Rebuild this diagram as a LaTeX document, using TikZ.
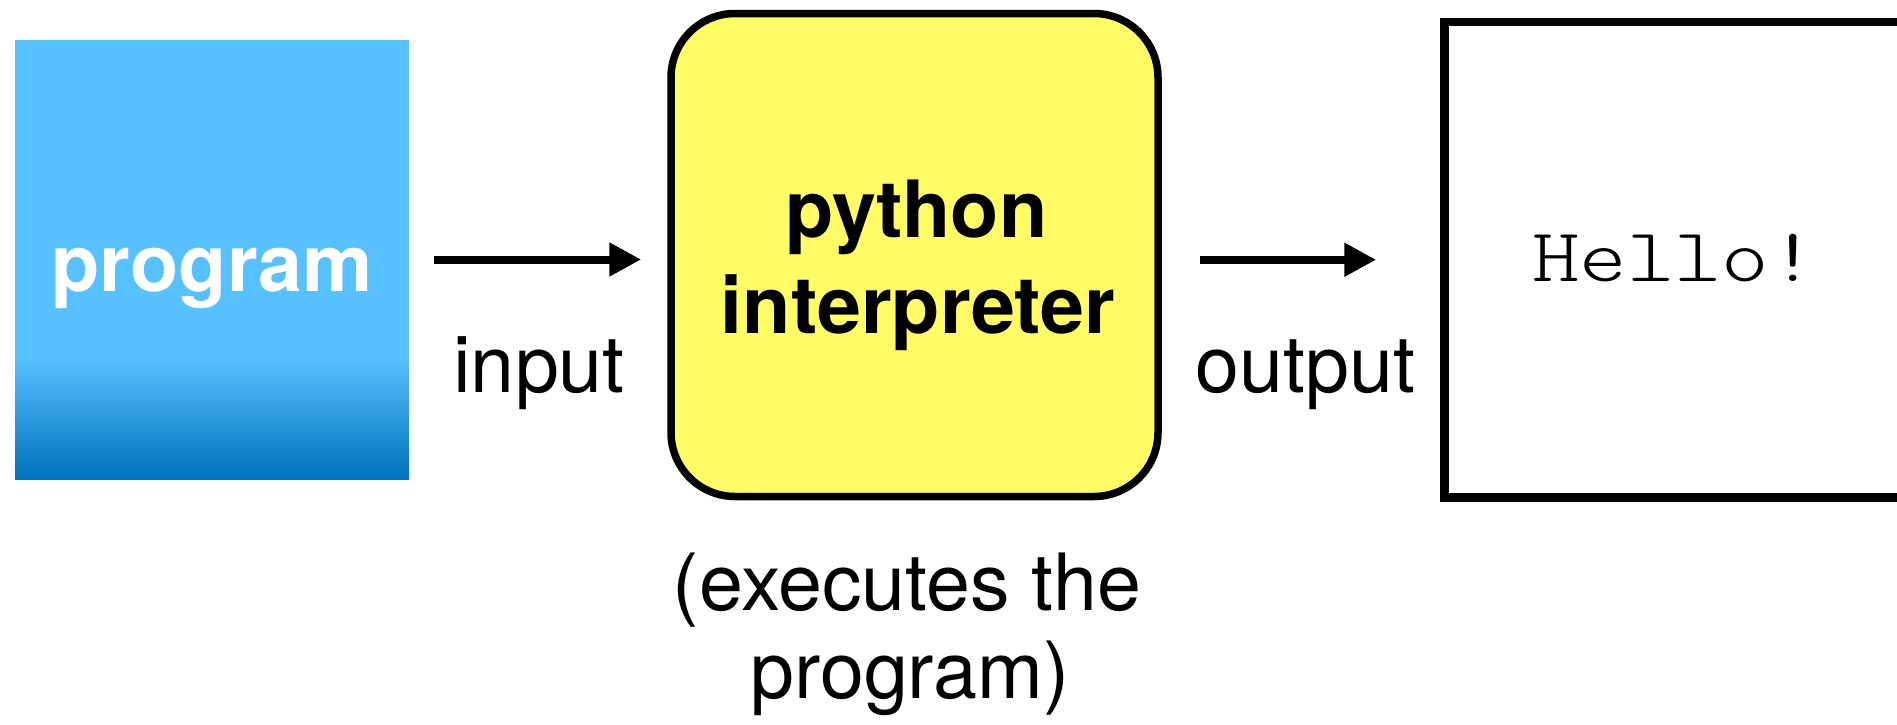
\documentclass[tikz,border=0pt]{standalone}
\usepackage{fontspec}
\setmainfont{TeX Gyre Heros}
\newfontfamily\hellomono[FakeStretch=1.19]{lmmonolt10-regular.otf}
\usetikzlibrary{arrows.meta}
\definecolor{progblue}{HTML}{57C0FF}
\definecolor{progdark}{HTML}{0073BC}
\definecolor{interpyellow}{HTML}{FFFC66}
\tikzset{
  arr/.style={line width=4pt, -{Triangle[length=16pt,width=16pt]}},
  bigtext/.style={font=\fontsize{39.5}{48}\selectfont, inner sep=0pt, anchor=base},
  boldtext/.style={bigtext, font=\fontsize{39.5}{48}\selectfont\bfseries}
}
\begin{document}
\begin{tikzpicture}[x=0.5pt,y=-0.5pt]
\useasboundingbox (0,0) rectangle (1897,724);
\clip (0,0) rectangle (1897,724);
% program box with gradient foot
\fill[progblue] (15,40) rectangle (409,358);
\shade[top color=progblue, bottom color=progdark] (15,357) rectangle (409,479);
\node[minimum width=197pt, minimum height=219.5pt, inner sep=0pt] (prog) at (212,259.5) {};
\node[boldtext, text=white] (progtxt) at (212,291) {program};
% interpreter
\node[draw, line width=3.75pt, fill=interpyellow, rounded corners=32pt,
      minimum width=243.5pt, minimum height=241.5pt, inner sep=0pt] (interp) at (914.5,255) {};
\node[boldtext] (interpa) at (916.5,237) {python};
\node[boldtext] (interpb) at (918,333) {interpreter};
% output window
\node[draw, line width=4.25pt, fill=white,
      minimum width=230.25pt, minimum height=237.75pt, inner sep=0pt] (hello) at (1674.75,259.75) {};
\node[inner sep=0pt, anchor=base, font=\hellomono\fontsize{38}{46}\selectfont] (hellotxt) at (1674.5,281) {Hello!};
% connectors
\draw[arr, shorten <=12.5pt, shorten >=13pt] (prog.east) -- (prog.east -| interp.west);
\draw[arr, shorten <=19pt, shorten >=32pt] (interp.east |- hello.west) -- (hello.west);
% labels
\node[bigtext] (inlbl) at (539,392) {input};
\node[bigtext] (outlbl) at (1305.5,392) {output};
\node[bigtext] (execa) at (907,610) {(executes the};
\node[bigtext] (execb) at (910,698) {program)};
\end{tikzpicture}
\end{document}
